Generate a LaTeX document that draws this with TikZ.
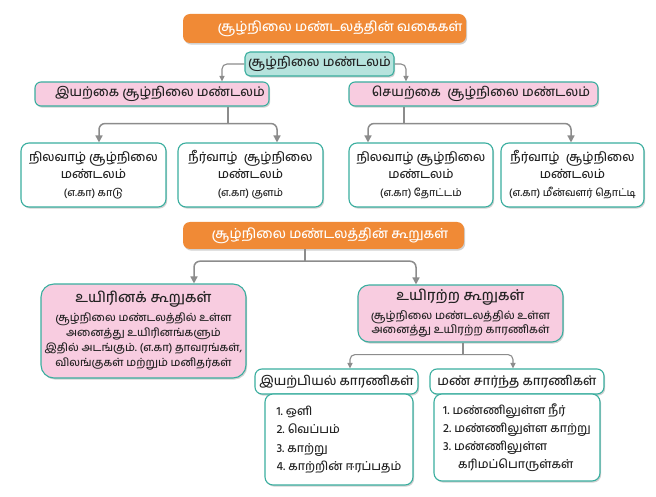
\documentclass[tikz,border=0pt]{standalone}
\usepackage{fontspec}
\newfontfamily\tamil[Script=Tamil]{Hind Madurai Medium}
\usetikzlibrary{arrows.meta,shadows}
\definecolor{orng}{HTML}{F08A36}
\definecolor{tealfill}{HTML}{B6E3DD}
\definecolor{tealline}{HTML}{3AAE9F}
\definecolor{pinkfill}{HTML}{F8CCE0}
\definecolor{arrgray}{HTML}{8C8C8C}
\definecolor{txt}{HTML}{222222}
\newcommand{\fs}[2]{\fontsize{#1}{#2}\selectfont}
\frenchspacing
\tikzset{
  base/.style={inner sep=0pt, align=center, text=txt, font=\tamil\fs{12.5}{17}},
  shad/.style={drop shadow={shadow xshift=1.2pt, shadow yshift=-1.6pt, opacity=0.18, fill=black}},
  orangebox/.style={base, shad, fill=orng, rounded corners=7pt, text=white, font=\tamil\fs{13.5}{16}},
  tealbox/.style={base, shad, fill=tealfill, draw=tealline, line width=1.1pt, rounded corners=5pt, font=\tamil\fs{13}{16}},
  pinkbox/.style={base, shad, fill=pinkfill, draw=tealline, line width=1.1pt, rounded corners=6pt, font=\tamil\fs{13}{16}},
  bigpink/.style={pinkbox, rounded corners=13pt},
  whitebox/.style={base, shad, fill=white, draw=tealline, line width=1.1pt, rounded corners=8pt},
  headbox/.style={base, shad, fill=white, draw=tealline, line width=1.1pt, rounded corners=7pt, font=\tamil\fs{13}{16}},
  conn/.style={draw=arrgray, line width=1.5pt},
  arr/.style={conn, rounded corners=6pt, -{Triangle[length=7pt,width=7pt]}},
  thinarr/.style={draw=arrgray, line width=1.1pt, rounded corners=5pt, -{Triangle[length=5.5pt,width=5pt]}},
}
\begin{document}
\begin{tikzpicture}[x=1pt,y=-1pt]
\useasboundingbox[fill=white] (0,0) rectangle (656,497);

% ---------- top part ----------
\node[orangebox, minimum width=283pt, minimum height=29pt] (t1) at (324.5,28.5)
  {\hspace*{31pt}சூழ்நிலை மண்டலத்தின் வகைகள்};
\node[tealbox, minimum width=149pt, minimum height=24pt] (eco) at (319.5,64)
  {சூழ்நிலை மண்டலம்};
\node[pinkbox, minimum width=234pt, minimum height=24pt] (nat) at (152,94)
  {\hspace*{16pt}இயற்கை சூழ்நிலை மண்டலம்};
\node[pinkbox, minimum width=249pt, minimum height=24pt] (art) at (473.5,94)
  {\hspace*{15pt}செயற்கை\ \ சூழ்நிலை மண்டலம்};

\node[whitebox, minimum width=145pt, minimum height=64pt] (b1) at (93.5,175)
  {நிலவாழ் சூழ்நிலை\\மண்டலம்\\[1pt]{\fs{10.5}{13}(எ.கா) காடு}};
\node[whitebox, minimum width=145pt, minimum height=64pt] (b2) at (250.5,175)
  {நீர்வாழ்\ \ சூழ்நிலை\\மண்டலம்\\[1pt]{\fs{10.5}{13}(எ.கா) குளம்}};
\node[whitebox, minimum width=144pt, minimum height=64pt] (b3) at (421,175)
  {நிலவாழ் சூழ்நிலை\\மண்டலம்\\[1pt]{\fs{10.5}{13}(எ.கா) தோட்டம்}};
\node[whitebox, minimum width=143pt, minimum height=64pt] (b4) at (572.5,175)
  {நீர்வாழ்\ \ சூழ்நிலை\\மண்டலம்\\[1pt]{\fs{10.5}{13}(எ.கா) மீன்வளர் தொட்டி}};

\draw[thinarr] (eco.west) -| ([xshift=70pt]nat.north);
\draw[thinarr] (eco.east) -| ([xshift=-67.5pt]art.north);

\draw[conn] ([xshift=76pt]nat.south) -- ++(0,17) coordinate (j1);
\draw[arr] (j1) -| ([xshift=5.5pt]b1.north);
\draw[arr] (j1) -| ([xshift=26.5pt]b2.north);
\draw[conn] ([xshift=-69.5pt]art.south) -- ++(0,17) coordinate (j2);
\draw[arr] (j2) -| ([xshift=-53pt]b3.north);
\draw[arr] (j2) -| ([xshift=-1.5pt]b4.north);

% ---------- lower part ----------
\node[orangebox, minimum width=281pt, minimum height=27pt] (t2) at (323.5,235.5)
  {\hspace*{13pt}சூழ்நிலை மண்டலத்தின் கூறுகள்};

\node[bigpink, minimum width=205pt, minimum height=94pt, font=\tamil\fs{11}{15}] (bio) at (143.5,331)
  {{\fs{14.5}{16}உயிரினக் கூறுகள்}\\[4pt]
   சூழ்நிலை மண்டலத்தில் உள்ள\\
   அனைத்து உயிரினங்களும்\\
   இதில் அடங்கும். (எ.கா) தாவரங்கள்,\\
   விலங்குகள் மற்றும் மனிதர்கள்};
\node[bigpink, rounded corners=11pt, minimum width=205pt, minimum height=57pt, font=\tamil\fs{11.2}{14}] (abio) at (460.5,313.5)
  {{\fs{14.5}{16}உயிரற்ற கூறுகள்}\\[5pt]
   சூழ்நிலை மண்டலத்தில் உள்ள\\
   அனைத்து உயிரற்ற காரணிகள்};

\draw[conn] ([xshift=-18.5pt]t2.south) -- ++(0,12) coordinate (j3);
\draw[arr] (j3) -| ([xshift=50.5pt]bio.north);
\draw[arr] (j3) -| ([xshift=-44.5pt]abio.north);

\node[headbox, minimum width=163pt, minimum height=25pt] (phys) at (336.5,381.5)
  {இயற்பியல் காரணிகள்};
\node[headbox, minimum width=174pt, minimum height=25pt] (soil) at (517,381.5)
  {மண் சார்ந்த காரணிகள்};

\draw[conn, line width=1.1pt] ([xshift=2.5pt]abio.south) -- ++(0,12) coordinate (j4);
\draw[thinarr] (j4) -| ([xshift=13.5pt]phys.north);
\draw[thinarr] (j4) -| ([xshift=-4pt]soil.north);

\node[whitebox, minimum width=148pt, minimum height=91pt, align=left, font=\tamil\fs{12}{18.5}] (l1) at (339,439.5)
  {1. ஒளி\\2. வெப்பம்\\3. காற்று\\4. காற்றின் ஈரப்பதம்};
\node[whitebox, minimum width=166pt, minimum height=87pt, align=left, font=\tamil\fs{12}{18}] (l2) at (517,437.5)
  {1. மண்ணிலுள்ள நீர்\\2. மண்ணிலுள்ள காற்று\hspace*{10pt}\\3. மண்ணிலுள்ள\\\hspace*{15pt}கரிமப்பொருள்கள்};
\end{tikzpicture}
\end{document}
